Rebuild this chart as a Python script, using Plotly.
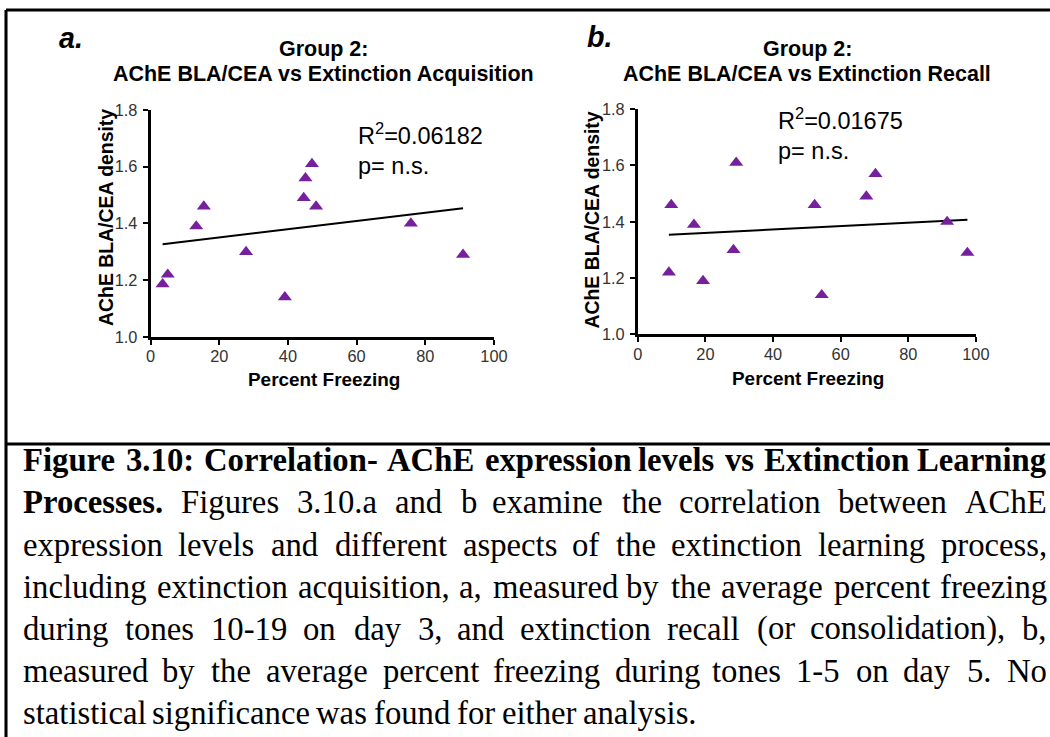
import plotly.graph_objects as go

W, H = 1050, 737

# ---------------- data ----------------
x_ticks = [0, 20, 40, 60, 80, 100]
y_ticks = [1.0, 1.2, 1.4, 1.6, 1.8]

# panel a: extinction acquisition
acq_x = [3.5, 5.0, 13.3, 15.5, 27.8, 39.1, 44.6, 45.1, 47.0, 48.2, 75.8, 91.0]
acq_y = [1.186, 1.22, 1.39, 1.46, 1.30, 1.14, 1.49, 1.56, 1.61, 1.46, 1.40, 1.29]
acq_fit_x = [3.5, 91.0]
acq_fit_y = [1.327, 1.454]

# panel b: extinction recall
rec_x = [9.2, 9.9, 16.6, 19.3, 28.3, 29.1, 52.3, 54.4, 67.6, 70.3, 91.5, 97.5]
rec_y = [1.22, 1.46, 1.39, 1.19, 1.30, 1.61, 1.46, 1.14, 1.49, 1.57, 1.40, 1.29]
rec_fit_x = [9.2, 97.5]
rec_fit_y = [1.354, 1.407]

title_line1 = "Group 2:"
title_a = "AChE BLA/CEA vs Extinction Acquisition"
title_b = "AChE BLA/CEA vs Extinction Recall"
x_title = "Percent Freezing"
y_title = "AChE BLA/CEA density"
stat_a = ["R<sup>2</sup>=0.06182", "p= n.s."]
stat_b = ["R<sup>2</sup>=0.01675", "p= n.s."]

# (text, number of leading bold words, justified)
caption_lines = [
    ("Figure 3.10: Correlation- AChE expression levels vs Extinction Learning", 99, True),
    ("Processes. Figures 3.10.a and b examine the correlation between AChE", 1, True),
    ("expression levels and different aspects of the extinction learning process,", 0, True),
    ("including extinction acquisition, a, measured by the average percent freezing", 0, True),
    ("during tones 10-19 on day 3, and extinction recall (or consolidation), b,", 0, True),
    ("measured by the average percent freezing during tones 1-5 on day 5. No", 0, True),
    ("statistical significance was found for either analysis.", 0, False),
]

# ---------------- styling ----------------
SANS = "Liberation Sans, Arial, sans-serif"
SERIF = "Liberation Serif, Times New Roman, serif"
PURPLE = "#76209e"

# the photographed page comes out slightly shrunk and offset; compensate
S = 0.978
O = 7.0


def fx(p):
    return ((p - O) / S) / W


def fy(p):
    return 1 - ((p - O) / S) / H


def fs(size):
    return size / S


fig = go.Figure()

for xs, ys, fxs, fys, xa, ya in [
    (acq_x, acq_y, acq_fit_x, acq_fit_y, "x", "y"),
    (rec_x, rec_y, rec_fit_x, rec_fit_y, "x2", "y2"),
]:
    fig.add_trace(go.Scatter(x=fxs, y=fys, mode="lines",
                             line=dict(color="black", width=fs(2)),
                             xaxis=xa, yaxis=ya, showlegend=False, hoverinfo="skip"))
    fig.add_trace(go.Scatter(x=xs, y=ys, mode="markers",
                             marker=dict(symbol="triangle-up", size=fs(12), color=PURPLE),
                             xaxis=xa, yaxis=ya, showlegend=False, cliponaxis=False))

axis_common = dict(showline=True, linecolor="black", linewidth=fs(2.5),
                   ticks="outside", ticklen=fs(5), tickwidth=fs(2), tickcolor="black",
                   showgrid=False, zeroline=False,
                   tickfont=dict(family=SANS, size=fs(16), color="#333333"))
x_extra = dict(ticklabelstandoff=-2)
y_extra = dict(ticklabelstandoff=2)

fig.update_layout(
    width=W, height=H,
    margin=dict(l=0, r=0, t=0, b=0, pad=0),
    paper_bgcolor="white", plot_bgcolor="white",
    showlegend=False,
    xaxis=dict(domain=[fx(152), fx(494)], range=[0, 100], tickvals=x_ticks,
               anchor="y", **axis_common, **x_extra),
    yaxis=dict(domain=[fy(335.7), fy(108.3)], range=[1.0, 1.8], tickvals=y_ticks,
               tickformat=".1f", anchor="x", **axis_common, **y_extra),
    xaxis2=dict(domain=[fx(637.3), fx(974)], range=[0, 100], tickvals=x_ticks,
                anchor="y2", **axis_common, **x_extra),
    yaxis2=dict(domain=[fy(333.3), fy(107.3)], range=[1.0, 1.8], tickvals=y_ticks,
                tickformat=".1f", anchor="x2", **axis_common, **y_extra),
)


def ann(text, x, y, size, family=SANS, xanchor="center", yanchor="middle",
        angle=0, color="black"):
    fig.add_annotation(text=text, x=fx(x), y=fy(y), xref="paper", yref="paper",
                       showarrow=False, xanchor=xanchor, yanchor=yanchor,
                       textangle=angle, borderpad=0,
                       font=dict(family=family, size=fs(size), color=color))


# panel labels
ann("<b><i>a.</i></b>", 60, 36, 28, xanchor="left")
ann("<b><i>b.</i></b>", 586, 35, 28, xanchor="left")

# titles
ann("<b>" + title_line1 + "</b>", 324.5, 47.5, 21)
ann("<b>" + title_a + "</b>", 324.5, 72, 21)
ann("<b>" + title_line1 + "</b>", 806, 47.5, 21)
ann("<b>" + title_b + "</b>", 806, 72, 21)

# axis titles
ann("<b>" + x_title + "</b>", 325, 378, 18.5)
ann("<b>" + x_title + "</b>", 806.7, 377, 18.5)
ann("<b>" + y_title + "</b>", 108.3, 215.8, 19, angle=-90)
ann("<b>" + y_title + "</b>", 591.7, 219, 19, angle=-90)

# statistics
ann(stat_a[0], 358, 148, 23, xanchor="left", yanchor="bottom")
ann(stat_a[1], 358, 164.1, 23, xanchor="left")
ann(stat_b[0], 776, 133, 23, xanchor="left", yanchor="bottom")
ann(stat_b[1], 776, 149.1, 23, xanchor="left")

# ---------------- caption (justified, word by word) ----------------
REG = {' ': 250, '!': 333, '(': 333, ')': 333, ',': 250, '-': 333, '.': 250, ':': 278,
       'A': 722, 'B': 667, 'C': 667, 'D': 722, 'E': 611, 'F': 556, 'G': 722, 'H': 722,
       'I': 333, 'L': 611, 'M': 889, 'N': 722, 'O': 722, 'P': 556, 'R': 667, 'S': 556,
       'T': 611, 'a': 444, 'b': 500, 'c': 444, 'd': 500, 'e': 444, 'f': 333, 'g': 500,
       'h': 500, 'i': 278, 'j': 278, 'k': 500, 'l': 278, 'm': 778, 'n': 500, 'o': 500,
       'p': 500, 'q': 500, 'r': 333, 's': 389, 't': 278, 'u': 500, 'v': 500, 'w': 722,
       'x': 500, 'y': 500, 'z': 444}
BOLD = {' ': 250, ',': 250, '-': 333, '.': 250, ':': 333,
        'A': 722, 'B': 667, 'C': 722, 'D': 722, 'E': 667, 'F': 611, 'G': 778, 'H': 778,
        'I': 389, 'L': 667, 'N': 722, 'O': 778, 'P': 611, 'R': 722, 'S': 556, 'T': 667,
        'a': 500, 'b': 556, 'c': 444, 'd': 556, 'e': 444, 'f': 333, 'g': 500, 'h': 556,
        'i': 278, 'j': 333, 'k': 556, 'l': 278, 'm': 833, 'n': 556, 'o': 500, 'p': 556,
        'q': 556, 'r': 444, 's': 389, 't': 333, 'u': 556, 'v': 500, 'w': 722, 'x': 500,
        'y': 500, 'z': 444}


def text_width(word, bold, size):
    tab = BOLD if bold else REG
    return sum(tab.get(c, 500) for c in word) / 1000.0 * size


CAP_L, CAP_R = 24, 1046
CAP_SIZE = 32
for i, (line, nbold, justify) in enumerate(caption_lines):
    words = line.split()
    flags = [j < nbold for j in range(len(words))]
    widths = [text_width(w, b, CAP_SIZE) for w, b in zip(words, flags)]
    n = len(words)
    baseline = 470 + 42.33 * i
    ymid = baseline - 0.3375 * CAP_SIZE
    if justify:
        gap = (CAP_R - CAP_L - sum(widths)) / (n - 1)
    else:
        gap = REG[' '] / 1000.0 * CAP_SIZE
    pos = CAP_L
    for j, word in enumerate(words):
        txt = "<b>" + word + "</b>" if flags[j] else word
        if justify and j >= n / 2:
            right = CAP_R - sum(widths[j + 1:]) - gap * (n - 1 - j)
            ann(txt, right, ymid, CAP_SIZE, family=SERIF, xanchor="right")
        else:
            ann(txt, pos, ymid, CAP_SIZE, family=SERIF, xanchor="left")
        pos += widths[j] + gap

# ---------------- frame lines ----------------
frame = dict(type="line", xref="paper", yref="paper", line=dict(color="black", width=fs(3)))
fig.add_shape(x0=fx(8), x1=fx(1060), y0=fy(8), y1=fy(8), **frame)
fig.add_shape(x0=fx(8), x1=fx(8), y0=fy(8), y1=fy(760), **frame)
fig.add_shape(x0=fx(8), x1=fx(1060), y0=fy(443), y1=fy(443), **frame)

fig.write_html(
    "out.html",
    config={"displayModeBar": False},
    post_script="document.body.style.margin='0';document.body.style.overflow='hidden';",
)
